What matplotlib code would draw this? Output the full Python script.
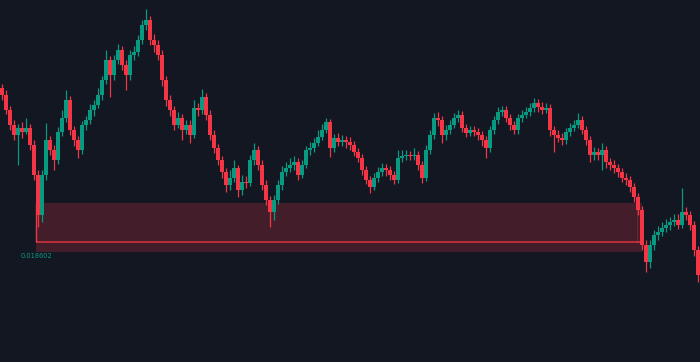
import matplotlib
matplotlib.use("Agg")
import matplotlib.pyplot as plt
import numpy as np

# prices in millionths (0.018602 -> 18602)
opens = [18756, 18749, 18734, 18719, 18709, 18716, 18712, 18716, 18699, 18669,
         18629, 18669, 18704, 18694, 18684, 18712, 18726, 18744, 18714, 18704,
         18694, 18719, 18724, 18734, 18739, 18749, 18764, 18784, 18769, 18784,
         18794, 18779, 18769, 18789, 18792, 18804, 18819, 18824, 18804, 18799,
         18789, 18764, 18744, 18734, 18719, 18726, 18714, 18719, 18709, 18736,
         18734, 18747, 18729, 18709, 18696, 18684, 18672, 18659, 18666, 18676,
         18654, 18662, 18661, 18684, 18694, 18679, 18659, 18644, 18632, 18644,
         18659, 18672, 18676, 18679, 18682, 18669, 18679, 18694, 18696, 18701,
         18707, 18714, 18722, 18696, 18706, 18702, 18704, 18702, 18699, 18692,
         18686, 18674, 18664, 18657, 18666, 18672, 18676, 18674, 18669, 18664,
         18686, 18688, 18689, 18688, 18689, 18679, 18666, 18694, 18709, 18726,
         18724, 18709, 18714, 18719, 18726, 18729, 18716, 18711, 18714, 18712,
         18709, 18704, 18696, 18714, 18724, 18732, 18734, 18726, 18719, 18714,
         18726, 18729, 18732, 18736, 18741, 18737, 18734, 18736, 18714, 18709,
         18706, 18704, 18712, 18716, 18719, 18724, 18714, 18704, 18689, 18692,
         18689, 18694, 18682, 18679, 18676, 18672, 18666, 18664, 18657, 18647,
         18634, 18599, 18582, 18599, 18609, 18612, 18616, 18619, 18622, 18624,
         18619, 18632, 18629, 18619, 18594]
highs = [18760, 18754, 18738, 18724, 18720, 18722, 18726, 18720, 18704, 18674,
         18674, 18721, 18708, 18699, 18717, 18734, 18754, 18748, 18718, 18708,
         18723, 18728, 18740, 18744, 18756, 18768, 18794, 18788, 18789, 18800,
         18798, 18784, 18794, 18798, 18809, 18824, 18835, 18828, 18810, 18804,
         18794, 18768, 18749, 18738, 18732, 18730, 18724, 18724, 18744, 18741,
         18755, 18751, 18734, 18714, 18700, 18688, 18676, 18674, 18684, 18679,
         18669, 18668, 18689, 18701, 18698, 18684, 18664, 18648, 18649, 18664,
         18678, 18682, 18686, 18688, 18686, 18684, 18698, 18702, 18706, 18714,
         18720, 18726, 18725, 18710, 18711, 18709, 18708, 18707, 18703, 18696,
         18690, 18678, 18668, 18671, 18677, 18681, 18680, 18678, 18673, 18694,
         18694, 18694, 18693, 18696, 18693, 18683, 18699, 18714, 18731, 18732,
         18728, 18719, 18724, 18731, 18734, 18733, 18720, 18718, 18718, 18716,
         18713, 18708, 18718, 18728, 18737, 18738, 18738, 18730, 18723, 18730,
         18734, 18737, 18741, 18746, 18745, 18742, 18741, 18740, 18718, 18714,
         18711, 18716, 18721, 18724, 18731, 18728, 18718, 18708, 18697, 18696,
         18701, 18698, 18686, 18684, 18680, 18676, 18671, 18668, 18661, 18651,
         18638, 18604, 18604, 18614, 18618, 18622, 18625, 18627, 18630, 18630,
         18656, 18637, 18633, 18623, 18598]
lows = [18744, 18730, 18714, 18704, 18679, 18706, 18710, 18694, 18664, 18617,
        18622, 18664, 18689, 18674, 18680, 18708, 18722, 18709, 18698, 18686,
        18690, 18714, 18720, 18728, 18736, 18744, 18760, 18747, 18764, 18780,
        18774, 18754, 18764, 18784, 18788, 18800, 18814, 18799, 18792, 18784,
        18758, 18738, 18728, 18714, 18716, 18704, 18710, 18701, 18706, 18728,
        18730, 18724, 18704, 18691, 18679, 18666, 18652, 18654, 18662, 18647,
        18649, 18656, 18658, 18679, 18674, 18654, 18639, 18617, 18624, 18640,
        18654, 18668, 18672, 18674, 18664, 18666, 18676, 18689, 18692, 18698,
        18704, 18711, 18687, 18692, 18698, 18698, 18696, 18694, 18688, 18682,
        18669, 18660, 18651, 18654, 18662, 18668, 18668, 18664, 18660, 18661,
        18682, 18684, 18684, 18684, 18674, 18661, 18663, 18690, 18705, 18718,
        18701, 18704, 18710, 18716, 18722, 18712, 18707, 18708, 18708, 18704,
        18698, 18686, 18692, 18710, 18720, 18728, 18722, 18714, 18710, 18710,
        18722, 18726, 18728, 18732, 18732, 18730, 18731, 18708, 18692, 18702,
        18699, 18700, 18708, 18713, 18716, 18710, 18699, 18682, 18684, 18684,
        18674, 18676, 18674, 18671, 18667, 18662, 18659, 18652, 18642, 18629,
        18594, 18572, 18576, 18594, 18604, 18608, 18612, 18614, 18618, 18615,
        18616, 18624, 18614, 18588, 18562]
closes = [18749, 18734, 18719, 18709, 18716, 18712, 18716, 18699, 18669, 18629,
          18669, 18704, 18694, 18684, 18712, 18726, 18744, 18714, 18704, 18694,
          18719, 18724, 18734, 18739, 18749, 18764, 18784, 18769, 18784, 18794,
          18779, 18769, 18789, 18792, 18804, 18819, 18824, 18804, 18799, 18789,
          18764, 18744, 18734, 18719, 18726, 18714, 18719, 18709, 18736, 18734,
          18747, 18729, 18709, 18696, 18684, 18672, 18659, 18666, 18676, 18654,
          18662, 18661, 18684, 18694, 18679, 18659, 18644, 18632, 18644, 18659,
          18672, 18676, 18679, 18682, 18669, 18679, 18694, 18696, 18701, 18707,
          18714, 18722, 18696, 18706, 18702, 18704, 18702, 18699, 18692, 18686,
          18674, 18664, 18657, 18666, 18672, 18676, 18674, 18669, 18664, 18686,
          18688, 18689, 18688, 18689, 18679, 18666, 18694, 18709, 18726, 18724,
          18709, 18714, 18719, 18726, 18729, 18716, 18711, 18714, 18712, 18709,
          18704, 18696, 18714, 18724, 18732, 18734, 18726, 18719, 18714, 18726,
          18729, 18732, 18736, 18741, 18737, 18734, 18736, 18714, 18709, 18706,
          18704, 18712, 18716, 18719, 18724, 18714, 18704, 18689, 18692, 18689,
          18694, 18682, 18679, 18676, 18672, 18666, 18664, 18657, 18647, 18634,
          18599, 18582, 18599, 18609, 18612, 18616, 18619, 18622, 18624, 18619,
          18632, 18629, 18619, 18594, 18569]

# demand/supply zone (millionths) and its bar span
zone_top = 18641
zone_level = 18602
zone_bottom = 18592
zone_start = 8.6
zone_end = 160.0
zone_inner_end = 158.7
zone_label = "0.018602"

o = np.array(opens) / 1e6
h = np.array(highs) / 1e6
l = np.array(lows) / 1e6
c = np.array(closes) / 1e6
idx = np.arange(len(c))

bg = "#131722"
up = "#089981"
down = "#f23645"

fig = plt.figure(figsize=(7, 3.62), dpi=100, facecolor=bg)
ax = fig.add_axes([0, 0, 1, 1])
ax.set_facecolor(bg)

# zone
zt, zl, zb = zone_top / 1e6, zone_level / 1e6, zone_bottom / 1e6
ax.fill_between([zone_start, zone_end], zb, zt, color=down, alpha=0.22,
                linewidth=0, zorder=1)
ax.hlines(zl, zone_start, zone_end, color=down, linewidth=1.3, alpha=0.75, zorder=2)
ax.vlines(zone_start, zl, zt, color=down, linewidth=1.0, zorder=2)
ax.vlines(zone_inner_end, zl, zt, color=down, linewidth=0.6, alpha=0.35, zorder=2)
ax.text(zone_start, zb - 0.0000015, zone_label, color=up, fontsize=4.8,
        ha="center", va="top", zorder=3)

# candles
colors = np.where(c >= o, up, down)
ax.vlines(idx, l, h, color=colors, linewidth=0.9, zorder=4)
body_low = np.minimum(o, c)
body_h = np.maximum(np.abs(c - o), 0.0000012)
ax.bar(idx, body_h, bottom=body_low, width=0.78, color=colors, linewidth=0, zorder=5)

ax.set_xlim(-0.5, 174.5)
ax.set_ylim(0.018482, 0.018844)
ax.axis("off")

fig.savefig("out.png", dpi=100, facecolor=bg)
